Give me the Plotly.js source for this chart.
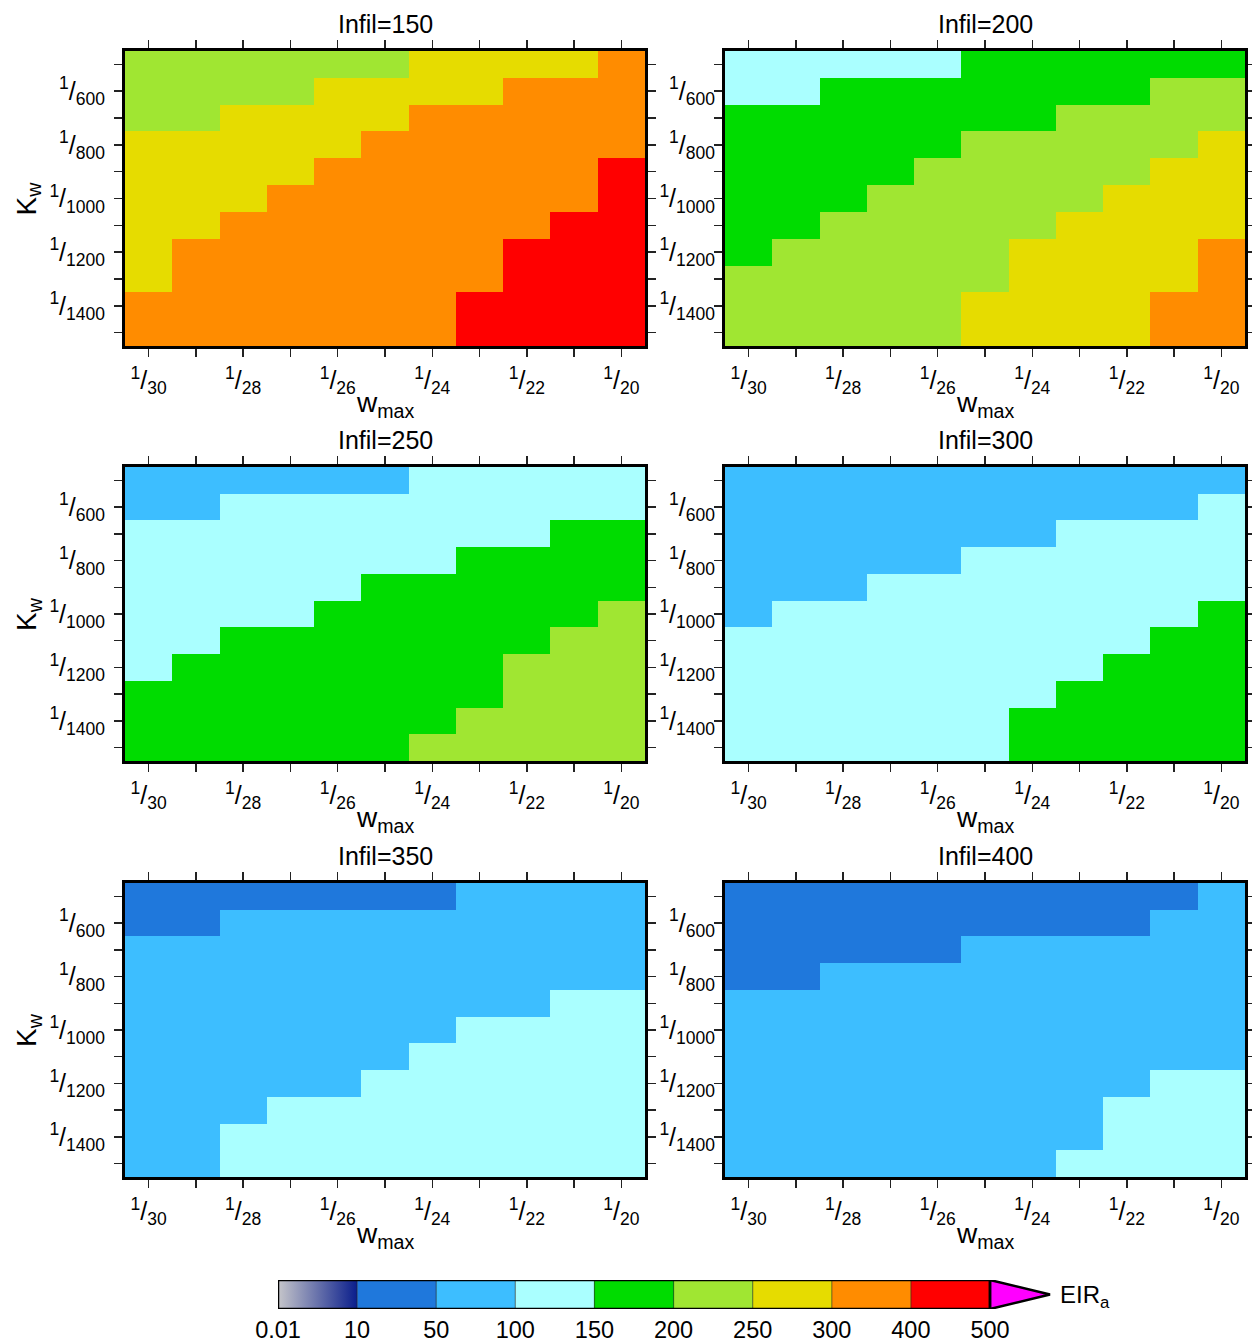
<!DOCTYPE html>
<html>
<head>
<meta charset="utf-8">
<script src="https://cdn.plot.ly/plotly-3.0.1.min.js"></script>
<style>
html, body { margin: 0; padding: 0; background: #ffffff; }
#chart { width: 1252px; height: 1342px; }
</style>
</head>
<body>
<div id="chart"></div>
<script>
// ---------------- DATA ----------------
// x categories: w_max = 1/30 ... 1/20 ; y categories: K_w = 1/500 (top) ... 1/1500 (bottom)
const wmaxDenoms = [30, 29, 28, 27, 26, 25, 24, 23, 22, 21, 20];
const kwDenoms = [500, 600, 700, 800, 900, 1000, 1100, 1200, 1300, 1400, 1500];
const xLabelDenoms = [30, 28, 26, 24, 22, 20];
const yLabelDenoms = [600, 800, 1000, 1200, 1400];

// EIR_a class boundaries (colour-bar labels) and class colours
const eirEdges = ['0.01', '10', '50', '100', '150', '200', '250', '300', '400', '500'];
const classColors = ['#0a1e8c', '#1f78dc', '#3dbeff', '#aaffff', '#00dc00',
                     '#a0e632', '#e6dc00', '#ff8c00', '#ff0000', '#ff00ff'];
const gradientColors = ['#c6c6ca', '#0a1e8c'];

const infilValues = [150, 200, 250, 300, 350, 400];

// class index per cell (rows: K_w top->bottom, cols: w_max left->right)
const infil150 = [
  [5,5,5,5,5,5,6,6,6,6,7],
  [5,5,5,5,6,6,6,6,7,7,7],
  [5,5,6,6,6,6,7,7,7,7,7],
  [6,6,6,6,6,7,7,7,7,7,7],
  [6,6,6,6,7,7,7,7,7,7,8],
  [6,6,6,7,7,7,7,7,7,7,8],
  [6,6,7,7,7,7,7,7,7,8,8],
  [6,7,7,7,7,7,7,7,8,8,8],
  [6,7,7,7,7,7,7,7,8,8,8],
  [7,7,7,7,7,7,7,8,8,8,8],
  [7,7,7,7,7,7,7,8,8,8,8]
];
const infil200 = [
  [3,3,3,3,3,4,4,4,4,4,4],
  [3,3,4,4,4,4,4,4,4,5,5],
  [4,4,4,4,4,4,4,5,5,5,5],
  [4,4,4,4,4,5,5,5,5,5,6],
  [4,4,4,4,5,5,5,5,5,6,6],
  [4,4,4,5,5,5,5,5,6,6,6],
  [4,4,5,5,5,5,5,6,6,6,6],
  [4,5,5,5,5,5,6,6,6,6,7],
  [5,5,5,5,5,5,6,6,6,6,7],
  [5,5,5,5,5,6,6,6,6,7,7],
  [5,5,5,5,5,6,6,6,6,7,7]
];
const infil250 = [
  [2,2,2,2,2,2,3,3,3,3,3],
  [2,2,3,3,3,3,3,3,3,3,3],
  [3,3,3,3,3,3,3,3,3,4,4],
  [3,3,3,3,3,3,3,4,4,4,4],
  [3,3,3,3,3,4,4,4,4,4,4],
  [3,3,3,3,4,4,4,4,4,4,5],
  [3,3,4,4,4,4,4,4,4,5,5],
  [3,4,4,4,4,4,4,4,5,5,5],
  [4,4,4,4,4,4,4,4,5,5,5],
  [4,4,4,4,4,4,4,5,5,5,5],
  [4,4,4,4,4,4,5,5,5,5,5]
];
const infil300 = [
  [2,2,2,2,2,2,2,2,2,2,2],
  [2,2,2,2,2,2,2,2,2,2,3],
  [2,2,2,2,2,2,2,3,3,3,3],
  [2,2,2,2,2,3,3,3,3,3,3],
  [2,2,2,3,3,3,3,3,3,3,3],
  [2,3,3,3,3,3,3,3,3,3,4],
  [3,3,3,3,3,3,3,3,3,4,4],
  [3,3,3,3,3,3,3,3,4,4,4],
  [3,3,3,3,3,3,3,4,4,4,4],
  [3,3,3,3,3,3,4,4,4,4,4],
  [3,3,3,3,3,3,4,4,4,4,4]
];
const infil350 = [
  [1,1,1,1,1,1,1,2,2,2,2],
  [1,1,2,2,2,2,2,2,2,2,2],
  [2,2,2,2,2,2,2,2,2,2,2],
  [2,2,2,2,2,2,2,2,2,2,2],
  [2,2,2,2,2,2,2,2,2,3,3],
  [2,2,2,2,2,2,2,3,3,3,3],
  [2,2,2,2,2,2,3,3,3,3,3],
  [2,2,2,2,2,3,3,3,3,3,3],
  [2,2,2,3,3,3,3,3,3,3,3],
  [2,2,3,3,3,3,3,3,3,3,3],
  [2,2,3,3,3,3,3,3,3,3,3]
];
const infil400 = [
  [1,1,1,1,1,1,1,1,1,1,2],
  [1,1,1,1,1,1,1,1,1,2,2],
  [1,1,1,1,1,2,2,2,2,2,2],
  [1,1,2,2,2,2,2,2,2,2,2],
  [2,2,2,2,2,2,2,2,2,2,2],
  [2,2,2,2,2,2,2,2,2,2,2],
  [2,2,2,2,2,2,2,2,2,2,2],
  [2,2,2,2,2,2,2,2,2,3,3],
  [2,2,2,2,2,2,2,2,3,3,3],
  [2,2,2,2,2,2,2,2,3,3,3],
  [2,2,2,2,2,2,2,3,3,3,3]
];
const panelGrids = [infil150, infil200, infil250, infil300, infil350, infil400];

// ---------------- LAYOUT HELPERS ----------------
const W = 1252, H = 1342;
const FONT = 'Liberation Sans, Arial, Helvetica, sans-serif';
const px = v => v / W;
const py = v => 1 - v / H;

const colPx = [[125, 645], [725, 1245]];
const rowPx = [[51, 346], [467, 761], [883, 1177]];

const colorscale = [];
classColors.forEach((c, i) => {
  colorscale.push([i / classColors.length, c]);
  colorscale.push([(i + 1) / classColors.length, c]);
});

const xIdx = wmaxDenoms.map((d, i) => i);
const yIdx = kwDenoms.map((d, i) => i);
const fracLabel = d => '<sup>1</sup>/<sub>' + d + '</sub>';
const xMajorVals = xLabelDenoms.map(d => wmaxDenoms.indexOf(d));
const yMajorVals = yLabelDenoms.map(d => kwDenoms.indexOf(d));

const traces = [];
const layout = {
  width: W, height: H,
  margin: {l: 0, r: 0, t: 0, b: 0},
  paper_bgcolor: '#ffffff',
  plot_bgcolor: '#ffffff',
  font: {family: FONT, color: '#000000', size: 24},
  showlegend: false,
  annotations: [],
  shapes: []
};

const TICKCOLOR = '#222222';
panelGrids.forEach((grid, k) => {
  const r = Math.floor(k / 2), c = k % 2;
  const n = k + 1;
  const xa = 'x' + (n === 1 ? '' : n), ya = 'y' + (n === 1 ? '' : n);
  traces.push({
    type: 'heatmap', z: grid, x: xIdx, y: yIdx,
    xaxis: xa, yaxis: ya,
    colorscale: colorscale, zmin: -0.5, zmax: classColors.length - 0.5,
    showscale: false, hoverinfo: 'skip'
  });
  const common = {
    tickmode: 'array', ticks: 'outside', ticklen: 8, tickwidth: 1.5, tickcolor: TICKCOLOR,
    showline: true, linewidth: 3, linecolor: '#000000', mirror: 'allticks',
    showgrid: false, zeroline: false, fixedrange: true,
    tickfont: {family: FONT, size: 25, color: '#000000'}
  };
  layout['xaxis' + (n === 1 ? '' : n)] = Object.assign({}, common, {
    domain: [px(colPx[c][0]), px(colPx[c][1])],
    anchor: ya,
    range: [-0.5, wmaxDenoms.length - 0.5],
    tickvals: xMajorVals, ticktext: xLabelDenoms.map(fracLabel),
    minor: {tickmode: 'array', tickvals: xIdx, ticks: 'outside', ticklen: 8, tickwidth: 1.5, tickcolor: TICKCOLOR, showgrid: false},
    ticklabelstandoff: 2
  });
  layout['yaxis' + (n === 1 ? '' : n)] = Object.assign({}, common, {
    domain: [py(rowPx[r][1]), py(rowPx[r][0])],
    anchor: xa,
    range: [kwDenoms.length - 0.5, -0.5],
    tickvals: yMajorVals, ticktext: yLabelDenoms.map(fracLabel),
    minor: {tickmode: 'array', tickvals: yIdx, ticks: 'outside', ticklen: 8, tickwidth: 1.5, tickcolor: TICKCOLOR, showgrid: false},
    ticklabelstandoff: c === 0 ? 4 : -6
  });
  const cx = (colPx[c][0] + colPx[c][1]) / 2;
  layout.annotations.push({
    text: 'Infil=' + infilValues[k], xref: 'paper', yref: 'paper',
    x: px(cx), y: py(rowPx[r][0] - 27), xanchor: 'center', yanchor: 'middle',
    showarrow: false, font: {family: FONT, size: 25, color: '#000000'}
  });
  layout.annotations.push({
    text: 'w<sub>max</sub>', xref: 'paper', yref: 'paper',
    x: px(cx), y: py(rowPx[r][1] + 58), xanchor: 'center', yanchor: 'middle',
    showarrow: false, font: {family: FONT, size: 28, color: '#000000'}
  });
  if (c === 0) {
    layout.annotations.push({
      text: 'K<sub>w</sub>', xref: 'paper', yref: 'paper', textangle: -90,
      x: px(28), y: py((rowPx[r][0] + rowPx[r][1]) / 2), xanchor: 'center', yanchor: 'middle',
      showarrow: false, font: {family: FONT, size: 28, color: '#000000'}
    });
  }
});

// ---------------- COLOUR BAR ----------------
const nSeg = eirEdges.length - 1;          // 9 closed segments
const segPx = (990 - 278) / nSeg;
const tipLen = 60 / segPx;                  // triangle length in segment units
const cbRange = nSeg + tipLen + 0.03;
layout.xaxis7 = {
  domain: [px(278), px(278 + cbRange * segPx)], anchor: 'y7',
  range: [0, cbRange], showgrid: false, zeroline: false, showline: false,
  tickmode: 'array', tickvals: eirEdges.map((e, i) => i), ticktext: eirEdges,
  ticks: '', tickfont: {family: FONT, size: 23.5, color: '#000000'},
  ticklabelstandoff: 4, fixedrange: true
};
layout.yaxis7 = {
  domain: [py(1309), py(1280)], anchor: 'x7', range: [0, 1],
  showgrid: false, zeroline: false, showline: false, showticklabels: false,
  ticks: '', fixedrange: true
};
// gradient segment (0.01 - 10)
traces.push({
  type: 'scatter', mode: 'lines', xaxis: 'x7', yaxis: 'y7',
  x: [0, 1, 1, 0, 0], y: [0, 0, 1, 1, 0],
  fill: 'toself', line: {width: 0, color: 'rgba(0,0,0,0)'},
  fillgradient: {type: 'horizontal', colorscale: [[0, gradientColors[0]], [1, gradientColors[1]]]},
  hoverinfo: 'skip'
});
// solid segments
const segEdges = [], segZ = [];
for (let i = 1; i <= nSeg; i++) segEdges.push(i);
for (let i = 1; i < nSeg; i++) segZ.push(i);
traces.push({
  type: 'heatmap', xaxis: 'x7', yaxis: 'y7',
  x: segEdges, y: [0, 1], z: [segZ],
  colorscale: colorscale, zmin: -0.5, zmax: classColors.length - 0.5,
  showscale: false, hoverinfo: 'skip'
});
// over-range triangle
traces.push({
  type: 'scatter', mode: 'lines', xaxis: 'x7', yaxis: 'y7',
  x: [nSeg, nSeg + tipLen, nSeg, nSeg], y: [1, 0.5, 0, 1],
  fill: 'toself', fillcolor: classColors[classColors.length - 1],
  line: {color: '#000000', width: 2.5}, hoverinfo: 'skip'
});
// segment dividers and frame
for (let i = 1; i < nSeg; i++) {
  layout.shapes.push({type: 'line', xref: 'x7', yref: 'y7', x0: i, x1: i, y0: 0, y1: 1,
    line: {color: 'rgba(40,40,40,0.55)', width: 1.2}});
}
layout.shapes.push({type: 'rect', xref: 'x7', yref: 'y7', x0: 0, x1: nSeg, y0: 0, y1: 1,
  line: {color: '#000000', width: 2.5}});
layout.annotations.push({
  text: 'EIR<sub>a</sub>', xref: 'paper', yref: 'paper',
  x: px(1058), y: py(1296), xanchor: 'left', yanchor: 'middle',
  showarrow: false, font: {family: FONT, size: 24, color: '#000000'}
});

Plotly.newPlot('chart', traces, layout, {staticPlot: true, displayModeBar: false});
</script>
</body>
</html>
